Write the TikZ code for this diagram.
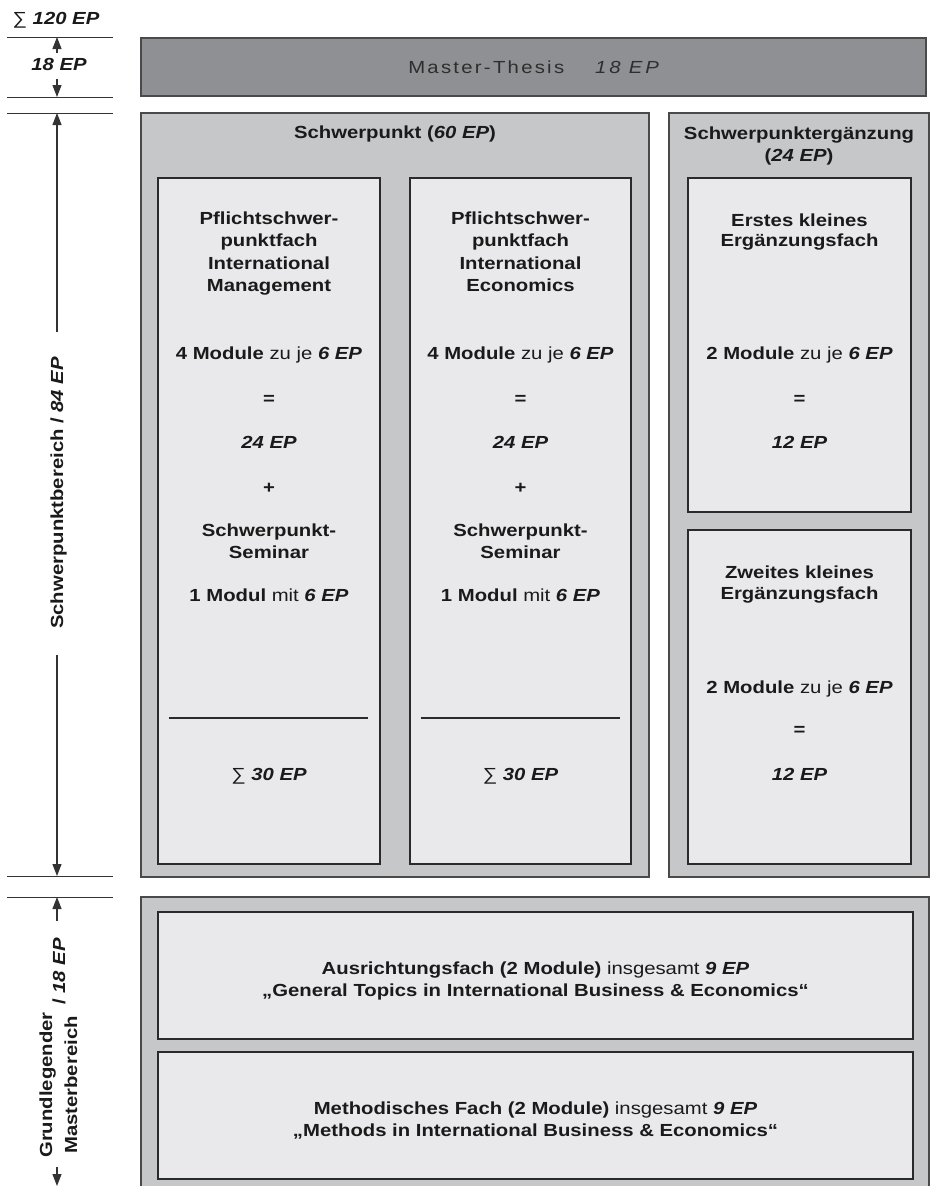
\documentclass[tikz,border=0pt]{standalone}
\usepackage{fontspec}
\setmainfont[FakeStretch=1.16]{Liberation Sans}
\usetikzlibrary{arrows.meta}
\definecolor{mastc}{HTML}{8F9093}
\definecolor{outc}{HTML}{C6C7C9}
\definecolor{inc}{HTML}{E9E9EB}
\definecolor{bordc}{HTML}{4A4A4A}
\definecolor{inbord}{HTML}{2A2A2A}
\definecolor{txtc}{HTML}{1A1A1A}
\definecolor{mtxt}{HTML}{2E2E2E}
\definecolor{linec}{HTML}{333333}
\begin{document}
\begin{tikzpicture}[x=1pt,y=-1pt,
  box/.style={rectangle, anchor=north west, inner sep=0pt, outer sep=0pt},
  outerbox/.style={box, draw=bordc, fill=outc, line width=1.4pt},
  innerbox/.style={box, draw=inbord, fill=inc, line width=1.4pt},
  masterbox/.style={box, draw=bordc, fill=mastc, line width=1.4pt},
  lbl/.style={anchor=base, inner sep=0pt, text=txtc, font=\fontsize{17.5}{22}\selectfont\bfseries},
  mlbl/.style={anchor=base, inner sep=0pt, text=mtxt, font=\fontsize{17.5}{22}\selectfont},
  rlbl/.style={lbl, rotate=90},
  scaleline/.style={draw=linec, line width=1pt},
  sumline/.style={draw=inbord, line width=1.8pt},
  dimarrow/.style={draw=linec, line width=1.1pt, -{Triangle[length=12pt,width=9pt]}}
]
\useasboundingbox (0,0) rectangle (933,1186);
\clip (0,0) rectangle (933,1186);

% ---------- boxes ----------
\node[masterbox, minimum width=785pt, minimum height=58pt] (mt) at (141,38) {};
\node[outerbox, minimum width=508pt, minimum height=764pt] (sp) at (141,113) {};
\node[innerbox, minimum width=222pt, minimum height=686pt] (sp1) at (158,178) {};
\node[innerbox, minimum width=221pt, minimum height=686pt] (sp2) at (410,178) {};
\node[outerbox, minimum width=260pt, minimum height=764pt] (erg) at (669,113) {};
\node[innerbox, minimum width=223pt, minimum height=334pt] (erg1) at (688,178) {};
\node[innerbox, minimum width=223pt, minimum height=334pt] (erg2) at (688,530) {};
\node[outerbox, minimum width=788pt, minimum height=310pt] (low) at (141,897) {};
\node[innerbox, minimum width=755pt, minimum height=127pt] (low1) at (158,912) {};
\node[innerbox, minimum width=755pt, minimum height=127pt] (low2) at (158,1052) {};

% ---------- master thesis ----------
\node[mlbl] (mtt) at (535,73) {\addfontfeature{LetterSpace=13}Master-Thesis\hspace{31pt}\textit{\addfontfeature{LetterSpace=16}18 EP}};

% ---------- Schwerpunkt ----------
\node[lbl] (spt) at (395,138) {Schwerpunkt (\textit{60 EP})};
\node[lbl] (ergt1) at (799,139) {Schwerpunktergänzung};
\node[lbl] (ergt2) at (799,161) {(\textit{24 EP})};

% column 1
\node[lbl] (a1) at (269,224) {Pflichtschwer-};
\node[lbl] (a2) at (269,246) {punktfach};
\node[lbl] (a3) at (269,269) {International};
\node[lbl] (a4) at (269,291) {Management};
\node[lbl] (a5) at (269,359) {4 Module {\mdseries zu je} \textit{6 EP}};
\node[lbl] (a6) at (269,404) {=};
\node[lbl] (a7) at (269,448) {\textit{24 EP}};
\node[lbl] (a8) at (269,493) {+};
\node[lbl] (a9) at (269,536) {Schwerpunkt-};
\node[lbl] (a10) at (269,558) {Seminar};
\node[lbl] (a11) at (269,601) {1 Modul {\mdseries mit} \textit{6 EP}};
\coordinate (a12l) at (169,718);
\coordinate (a12r) at (368,718);
\draw[sumline] (a12l) -- (a12r);
\node[lbl] (a13) at (269,780) {{\mdseries ∑} \textit{30 EP}};

% column 2
\node[lbl] (b1) at (520.5,224) {Pflichtschwer-};
\node[lbl] (b2) at (520.5,246) {punktfach};
\node[lbl] (b3) at (520.5,269) {International};
\node[lbl] (b4) at (520.5,291) {Economics};
\node[lbl] (b5) at (520.5,359) {4 Module {\mdseries zu je} \textit{6 EP}};
\node[lbl] (b6) at (520.5,404) {=};
\node[lbl] (b7) at (520.5,448) {\textit{24 EP}};
\node[lbl] (b8) at (520.5,493) {+};
\node[lbl] (b9) at (520.5,536) {Schwerpunkt-};
\node[lbl] (b10) at (520.5,558) {Seminar};
\node[lbl] (b11) at (520.5,601) {1 Modul {\mdseries mit} \textit{6 EP}};
\coordinate (b12l) at (421,718);
\coordinate (b12r) at (620,718);
\draw[sumline] (b12l) -- (b12r);
\node[lbl] (b13) at (520.5,780) {{\mdseries ∑} \textit{30 EP}};

% Ergänzung 1
\node[lbl] (c1) at (799.5,226) {Erstes kleines};
\node[lbl] (c2) at (799.5,246) {Ergänzungsfach};
\node[lbl] (c3) at (799.5,359) {2 Module {\mdseries zu je} \textit{6 EP}};
\node[lbl] (c4) at (799.5,404) {=};
\node[lbl] (c5) at (799.5,448) {\textit{12 EP}};
% Ergänzung 2
\node[lbl] (d1) at (799.5,578) {Zweites kleines};
\node[lbl] (d2) at (799.5,599) {Ergänzungsfach};
\node[lbl] (d3) at (799.5,693) {2 Module {\mdseries zu je} \textit{6 EP}};
\node[lbl] (d4) at (799.5,735) {=};
\node[lbl] (d5) at (799.5,780) {\textit{12 EP}};

% ---------- lower area ----------
\node[lbl] (e1) at (535.5,974) {Ausrichtungsfach (2 Module) {\mdseries insgesamt} \textit{9 EP}};
\node[lbl] (e2) at (535.5,996) {„General Topics in International Business \& Economics“};
\node[lbl] (f1) at (535.5,1114) {Methodisches Fach (2 Module) {\mdseries insgesamt} \textit{9 EP}};
\node[lbl] (f2) at (535.5,1136) {„Methods in International Business \& Economics“};

% ---------- left scale ----------
\coordinate (l1a) at (7,37);   \coordinate (l1b) at (113,37);
\coordinate (l2a) at (7,97);   \coordinate (l2b) at (113,97);
\coordinate (l3a) at (7,113);  \coordinate (l3b) at (113,113);
\coordinate (l4a) at (7,876);  \coordinate (l4b) at (113,876);
\coordinate (l5a) at (7,897);  \coordinate (l5b) at (113,897);
\draw[scaleline] (l1a) -- (l1b);
\draw[scaleline] (l2a) -- (l2b);
\draw[scaleline] (l3a) -- (l3b);
\draw[scaleline] (l4a) -- (l4b);
\draw[scaleline] (l5a) -- (l5b);

\node[lbl] (tot) at (56,24) {{\mdseries ∑} \textit{120 EP}};
\node[lbl] (m18) at (59,70) {\textit{18 EP}};
\coordinate (m18u) at (57,53);
\coordinate (m18d) at (57,79);
\coordinate (m18top) at (57,37);
\coordinate (m18bot) at (57,97);
\draw[dimarrow] (m18u) -- (m18top);
\draw[dimarrow] (m18d) -- (m18bot);

\node[rlbl] (spb) at (63,493) {Schwerpunktbereich / \textit{84 EP}};
\coordinate (spu) at (57,332);
\coordinate (spd) at (57,655);
\coordinate (sptop) at (57,113);
\coordinate (spbot) at (57,876);
\draw[dimarrow] (spu) -- (sptop);
\draw[dimarrow] (spd) -- (spbot);

\node[rlbl] (gm1) at (52,1085) {Grundlegender};
\node[rlbl] (gm2) at (77,1085) {Masterbereich};
\node[rlbl] (gm3) at (65,971.5) {/ \textit{18 EP}};
\coordinate (gmu) at (57,921);
\coordinate (gmd) at (57,1167);
\coordinate (gmtop) at (57,897);
\coordinate (gmbot) at (57,1186);
\draw[dimarrow] (gmu) -- (gmtop);
\draw[dimarrow] (gmd) -- (gmbot);
\end{tikzpicture}
\end{document}
